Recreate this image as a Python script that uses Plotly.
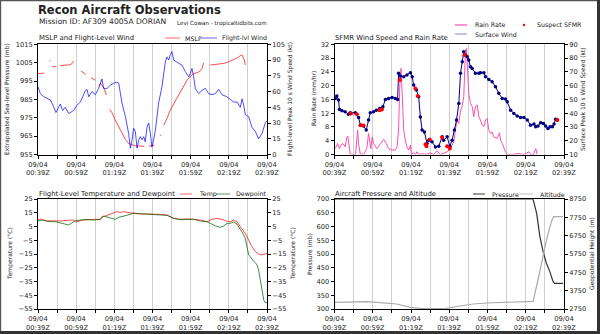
import plotly.graph_objects as go

# ---------------- data (minutes after 09/04 00:39Z) ----------------
tick_minutes = [0, 20, 40, 60, 80, 100, 120]
tick_labels = ["09/04<br>00:39Z", "09/04<br>00:59Z", "09/04<br>01:19Z", "09/04<br>01:39Z",
               "09/04<br>01:59Z", "09/04<br>02:19Z", "09/04<br>02:39Z"]

mslp_t = [0, 1.2, 3.3, 4.5, 5.9, 6.5, 6.9, 7.3, 8.6, 9.6, 10.5, 11.7, 13.4, 15.2, 16.9, 17.8, 18.7, 20.5,
          22.5, 23.6, 25.0, 26.5, 27.8, 29.2, 30.0, 31.0, 31.8, 32.7, 33.5, 34.8, 35.8, 36.7,
          37.6, 38.8, 40.5, 42.3, 44.0, 45.8, 47.5, 49.3, 51.0, 52.8, 54.5, 55.7, 57.0,
          58.0, 59.2, 61.0, 62.5, 63.8, 64.6, 65.2,
          65.9, 67.6, 69.3, 71.1, 72.8, 74.6, 76.3, 78.1, 79.8, 81.6, 83.4, 85.1, 86.0, 86.8, 88.5,
          90.3, 93.8, 97.3, 100.0, 102.5, 104.5, 106.0, 106.9, 108.1, 108.6]
mslp_v = [999.2, 999.0, 999.4, None, 1005.9, 1006.1, None, 1002.8, 1002.6, 1002.8, None,
          1003.4, 1003.5, 1003.9, 1003.9, 1004.5, 1005.9, None,
          1000.5, 999.7, 998.6, None, 996.8, 996.1, 995.5, None, 992.3, 993.7, 992.8, 990.5, 987.4, None,
          979.5, 977.7, 973.7, 970.1, 966.5, 963.2, 961.0, 960.1, 959.7, 959.7, 959.5, 959.4, None,
          959.5, 959.9, 960.1, None, 965.5, 965.5, None,
          971.0, 974.6, 979.2, 982.5, 985.5, 988.6, 991.9, 995.5, 997.4, 999.2, 999.5, 1000.6, 1001.9, 1005.0, None,
          1003.7, 1004.0, 1004.6, 1005.5, 1006.5, 1007.6, 1008.8, 1009.2, 1006.5, 1003.7]

flw_t = [0, 1.2, 3.0, 5.6, 6.5, 8.2, 9.4, 10.8, 11.7, 12.9, 14.3, 16.1, 17.8, 18.7, 20.4, 22.2, 24.8, 25.7,
         26.6, 28.3, 30.0, 31.8, 33.5, 34.4, 36.2, 37.9, 39.7, 41.4, 42.3, 44.0, 45.8, 47.5, 48.4, 49.3,
         50.1, 51.0, 51.9, 52.8, 53.6, 54.5, 55.4, 56.2, 57.1, 58.0, 58.9, 59.7, 60.6, 61.5, 63.2, 65.0,
         66.7, 67.6, 68.5, 69.3, 70.2, 71.1, 72.8, 75.5, 77.2, 79.0, 79.8, 80.7, 81.6, 82.4, 84.2, 85.9,
         87.7, 89.4, 91.2, 92.9, 94.7, 96.4, 99.0, 100.8, 102.5, 104.3, 106.0, 106.9, 107.8, 108.6, 110.4,
         112.1, 113.9, 115.6, 117.4, 119.1, 120]
flw_v = [64.6, 58, 55, 53, 52, 45.5, 40, 45, 48, 42, 45, 39, 41, 42, 47, 50, 61, 62, 55, 60,
         57, 63, 72, 63, 63, 66, 68, 69, 68, 49, 36, 20, 6, 14, 25, 22, 6, 14, 17, 14,
         17, 12, 26, 30, 20, 7, 14, 23, 49, 65, 88, 93, 90, 95, 98, 90, 88, 85, 79, 74,
         77, 82, 74, 63, 58, 61, 63, 58, 57, 58, 62, 57, 55, 52, 50, 50, 45, 53, 47, 38,
         36, 26, 22, 15, 20, 30, 32]

rain_t = [0, 0.9, 1.6, 2.6, 3.3, 4.4, 5.6, 6.5, 7.0, 7.7, 8.2, 9.5, 11.0, 12.1, 12.6, 13.4, 15.2, 16.9,
          17.8, 18.3, 19.0, 19.7, 20.4, 22.2, 23.9, 25.7, 27.1, 28.3, 30.0, 31.8, 32.7, 33.5, 34.1, 34.8,
          35.3, 36.2, 37.0, 37.9, 38.8, 39.7, 40.2, 41.4, 42.3, 43.1, 44.0, 46, 48, 50, 52, 53.6, 55.4,
          57, 58.9, 60.6, 62.4, 63.2, 64.1, 65.0, 65.9, 66.7, 67.6, 68.1, 68.5, 69.0, 69.7, 70.2, 71.1,
          72.0, 72.8, 73.7, 74.6, 75.5, 76.3, 77.2, 78.1, 79.0, 79.8, 80.7, 81.6, 82.4, 83.3, 85.1, 86.3,
          86.8, 87.7, 88.6, 89.4, 90.3, 93, 96, 99, 101.7, 102.5, 104, 105.2, 106.0]
rain_v = [1.7, 2.2, 3.2, 1.7, 2.7, 3.2, 2.2, 5.1, 5.3, 2.7, 0.1, 0, 0, 7.1, 3.2, 0.3, 0, 1.7,
          6.1, 4.2, 1.7, 5.1, 3.2, 1.7, 3.2, 4.4, 3.2, 1.7, 1.3, 1.3, 2.2, 7.1, 19.7, 25.0,
          18.7, 7.1, 4.2, 2.2, 1.3, 2.7, 0.1, 0.5, 0, 0.8, 0, 0.3, 0, 0.5, 0, 1.1, 0,
          0.3, 0.8, 1.7, 3.7, 7.1, 10.0, 9.0, 12.9, 13.9, 16.8, 24.5, 30.4, 30.8, 24.5, 17.7, 14.8,
          13.9, 11.0, 13.9, 14.4, 11.0, 10.0, 8.5, 8.1, 10.0, 10.5, 7.1, 6.1, 6.6, 5.1, 4.7, 6.3,
          4.2, 3.2, 1.7, 0.8, 0, 0, 0.3, 0, 0.8, 0, 0, 1.7, 0]

sfmr_t = [0.4, 1.2, 2.1, 2.6, 3.9, 5.6, 7.3, 8.2, 10.9, 12.6, 13.5, 15.2, 16.6, 17.8, 18.7, 20.4, 21.9,
          23.6, 25.3, 26.6, 28.3, 30.1, 31.8, 33.0, 33.5, 34.4, 36.2, 37.9, 39.7, 40.6, 41.4, 42.8, 44.0,
          44.9, 45.8, 47.0, 48.4, 49.3, 51.0, 52.8, 54.5, 56.3, 57.1, 58.9, 60.3, 61.5, 62.7, 63.8, 65.0,
          65.9, 66.8, 67.6, 68.5, 69.4, 70.2, 71.1, 72.0, 73.7, 75.5, 76.3, 78.1, 79.0, 80.7, 82.4, 84.2,
          85.9, 87.7, 89.4, 90.3, 92.1, 93.8, 95.5, 97.3, 99.0, 100.8, 102.5, 104.3, 105.2, 106.4, 107.8,
          109.2, 110.4, 111.6, 112.7, 113.9, 114.8, 115.6, 116.5]
sfmr_v = [50.7, 52.4, 49.5, 42.7, 41.7, 41.0, 39.3, 40.3, 40.3, 36.9, 31.3, 30.6, 27.7, 35.0, 40.3, 41.0,
          42.2, 43.4, 44.6, 50.0, 50.7, 51.4, 50.7, 50.0, 68.9, 66.9, 66.4, 67.7, 69.4, 66.4, 60.4, 56.8,
          51.9, 37.3, 27.7, 26.4, 18.0, 20.4, 19.2, 15.5, 16.0, 22.8, 20.4, 22.8, 16.0, 20.4, 27.7, 35.0,
          47.0, 68.9, 77.3, 84.6, 82.2, 81.0, 78.6, 73.7, 72.5, 68.9, 68.9, 69.4, 69.4, 66.5, 64.5, 62.8,
          59.2, 54.4, 50.7, 50.2, 48.3, 42.2, 39.8, 37.9, 36.9, 36.9, 35.0, 31.3, 32.1, 30.1, 30.6, 33.0,
          32.5, 30.6, 28.9, 30.1, 30.1, 32.1, 35.5, 35.0]

susp_t = [8.6, 11.7, 13.8, 15.2, 23.6, 24.8, 34.1, 42.3, 43.5, 47.6, 48.1, 49.8, 56.3, 58.9, 60.3, 68.0, 116.5]
susp_v = [39.8, 39.3, 31.3, 31.0, 42.2, 42.7, 64.0, 58.0, 52.4, 17.5, 16.0, 20.9, 22.4, 16.0, 14.4, 82.2, 35.0]

temp_t = [0, 1.2, 3.0, 4.7, 8.2, 11.7, 15.2, 18.7, 19.6, 21.3, 23.1, 25.7, 29.2, 32.7, 33.5, 35.3, 37.9,
          39.7, 41.4, 43.1, 44.9, 46.6, 50.1, 53.6, 57.1, 60.6, 64.1, 67.6, 71.1, 74.6, 78.1, 81.6, 85.1,
          88.6, 91.2, 93.8, 96.4, 99.0, 100.8, 102.5, 104.3, 106.0, 108.6, 110.4, 112.1, 113.9, 115.6,
          117.4, 119.1, 120]
temp_v = [9.7, 10.5, 9.7, 9.0, 9.2, 9.0, 9.5, 9.7, 8.5, 8.8, 9.7, 10.0, 10.2, 10.2, 12.2, 12.6, 13.8,
          15.1, 15.8, 15.1, 15.8, 15.3, 14.6, 14.1, 14.1, 14.1, 13.8, 13.4, 10.9, 10.2, 10.5, 10.2, 9.7,
          8.5, 10.2, 10.9, 10.2, 8.8, 8.5, 9.7, 8.5, 4.9, 0.0, -4.8, -9.7, -13.3, -15.0, -15.7, -15.0, -14.5]

dew_t = [0, 2.1, 3.8, 6.5, 9.1, 11.7, 14.3, 16.1, 17.8, 19.6, 22.2, 25.7, 29.2, 32.7, 34.4, 36.2, 37.9,
         40.5, 42.3, 44.0, 45.8, 47.5, 50.1, 53.6, 57.1, 60.6, 64.1, 67.6, 71.1, 74.6, 78.1, 81.6, 85.1,
         88.6, 90.3, 93.0, 95.5, 97.3, 99.0, 100.8, 102.5, 104.3, 106.0, 106.9, 108.6, 110.4, 111.3,
         112.1, 113.9, 114.8, 115.6, 116.5, 117.4, 118.3, 119.1, 120]
dew_v = [9.0, 9.7, 9.2, 8.5, 8.5, 7.8, 6.6, 6.1, 7.8, 9.2, 9.7, 10.0, 9.7, 10.2, 12.6, 11.7, 11.2,
         10.2, 11.7, 12.2, 12.9, 13.8, 14.6, 14.3, 14.1, 13.8, 13.6, 13.1, 10.9, 10.0, 10.2, 10.2, 9.0,
         8.5, 7.3, 5.4, 4.4, 5.4, 7.3, 7.3, 8.3, 6.8, 2.9, 1.2, -3.6, -15.7, -16.9, -18.9, -21.3, -23.0,
         -26.6, -33.9, -42.4, -48.5, -50.4, -50.4]

pres_t = [0, 103.8, 105.7, 107.4, 109.1, 110.8, 112.6, 114.3, 115.1, 119.5]
pres_v = [700, 700, 648, 563, 508, 466, 436, 399, 393, 393]

alt_t = [0, 16.9, 23.8, 32.5, 39.5, 44.7, 51.7, 58.6, 65.6, 72.5, 79.5, 86.4, 95.1, 103.8,
         106.4, 108.1, 109.9, 111.7, 113.4, 114.6, 119.5]
alt_v = [3114, 3150, 3095, 3023, 2841, 2786, 2768, 2786, 2914, 3023, 3077, 3114, 3150, 3168,
         4332, 5241, 6059, 6877, 7513, 7786, 7786]

# ---------------- layout helpers ----------------
W, H = 600, 334
FONT = "DejaVu Sans"
TXT = "#222222"


def px(x):
    return x / W


def py(y):
    return 1 - y / H


xL = [px(38), px(267)]
xR = [px(334.5), px(564)]
yT = [py(154.5), py(44.3)]
yB = [py(309), py(199)]

fig = go.Figure()
fig.add_trace(go.Scatter(x=mslp_t, y=mslp_v, mode="lines", line=dict(color="rgba(255,0,0,0.7)", width=1),
                         xaxis="x", yaxis="y", name="MSLP", connectgaps=False))
fig.add_trace(go.Scatter(x=flw_t, y=flw_v, mode="lines", line=dict(color="rgba(0,0,255,0.7)", width=1),
                         xaxis="x", yaxis="y2", name="Flight-lvl Wind"))
fig.add_trace(go.Scatter(x=rain_t, y=rain_v, mode="lines", line=dict(color="#ff4fa8", width=1),
                         xaxis="x2", yaxis="y3", name="Rain Rate"))
fig.add_trace(go.Scatter(x=sfmr_t, y=sfmr_v, mode="lines+markers", line=dict(color="#000080", width=1),
                         marker=dict(color="#000080", size=3.5), xaxis="x2", yaxis="y4", name="Surface Wind"))
fig.add_trace(go.Scatter(x=susp_t, y=susp_v, mode="markers", marker=dict(color="#ff0000", size=4),
                         xaxis="x2", yaxis="y4", name="Suspect SFMR"))
fig.add_trace(go.Scatter(x=temp_t, y=temp_v, mode="lines", line=dict(color="rgba(255,0,0,0.7)", width=1),
                         xaxis="x3", yaxis="y5", name="Temp"))
fig.add_trace(go.Scatter(x=dew_t, y=dew_v, mode="lines", line=dict(color="rgba(0,100,0,0.75)", width=1),
                         xaxis="x3", yaxis="y6", name="Dewpoint"))
fig.add_trace(go.Scatter(x=pres_t, y=pres_v, mode="lines", line=dict(color="#333333", width=1.2),
                         xaxis="x4", yaxis="y7", name="Pressure"))
fig.add_trace(go.Scatter(x=alt_t, y=alt_v, mode="lines", line=dict(color="#aaaaaa", width=1.2),
                         xaxis="x4", yaxis="y8", name="Altitude"))

tickfont = dict(family=FONT, size=6.7, color=TXT)
grid = "#cfcfcf"


def xax(domain, anchor):
    return dict(domain=domain, anchor=anchor, range=[0, 120], tickvals=tick_minutes, ticktext=tick_labels,
                ticks="outside", ticklen=3, tickwidth=1, tickcolor="black", showline=True, mirror=True,
                linecolor="black", linewidth=1, showgrid=True, gridcolor=grid, gridwidth=1, zeroline=False,
                tickfont=tickfont, minor=dict(dtick=10, tick0=0, ticks="outside", ticklen=3, tickcolor="black",
                                              showgrid=True, gridcolor=grid, gridwidth=1))


def yax(domain, anchor, rng, dtick, tick0):
    return dict(domain=domain, anchor=anchor, range=rng, dtick=dtick, tick0=tick0, ticks="outside", ticklen=3,
                tickcolor="black", showline=True, mirror=True, linecolor="black", linewidth=1, showgrid=False,
                zeroline=False, tickfont=tickfont)


def yov(over, anchor, rng, dtick, tick0):
    return dict(overlaying=over, side="right", anchor=anchor, range=rng, dtick=dtick, tick0=tick0,
                ticks="outside", ticklen=3, tickcolor="black", showline=True, linecolor="black", linewidth=1,
                showgrid=False, zeroline=False, tickfont=tickfont)


fig.update_layout(
    width=W, height=H, margin=dict(l=0, r=0, t=0, b=0), autosize=False, showlegend=False,
    paper_bgcolor="white", plot_bgcolor="white", template="none",
    font=dict(family=FONT, color=TXT),
    xaxis=xax(xL, "y"), xaxis2=xax(xR, "y3"), xaxis3=xax(xL, "y5"), xaxis4=xax(xR, "y7"),
    yaxis=yax(yT, "x", [955, 1015], 10, 955), yaxis2=yov("y", "x", [0, 105], 15, 0),
    yaxis3=yax(yT, "x2", [0, 32], 4, 0), yaxis4=yov("y3", "x2", [10, 90], 10, 10),
    yaxis5=yax(yB, "x3", [-55, 25], 10, -55), yaxis6=yov("y5", "x3", [-55, 25], 10, -55),
    yaxis7=yax(yB, "x4", [300, 700], 50, 300), yaxis8=yov("y7", "x4", [2750, 8750], 1000, 2750),
)

ann = []


def text(t, x, y, size, xanchor="left", angle=0, color=TXT):
    ann.append(dict(text=t, x=px(x), y=py(y), xref="paper", yref="paper", xanchor=xanchor, yanchor="middle",
                    showarrow=False, textangle=angle, font=dict(family=FONT, size=size, color=color)))


text("<b>Recon Aircraft Observations</b>", 36, 10, 11.5)
text("Mission ID: AF309 4005A DORIAN", 37, 22, 7.6)
text("Levi Cowan - tropicaltidbits.com", 175, 23, 5.6)

text("MSLP and Flight-Level Wind", 37, 38, 6.9)
text("SFMR Wind Speed and Rain Rate", 333, 38, 6.9)
text("Flight-Level Temperature and Dewpoint", 37, 194, 6.9)
text("Aircraft Pressure and Altitude", 333, 194, 6.9)

# y-axis titles
text("Extrapolated Sea-level Pressure (mb)", 7, 99, 6, "center", -90)
text("Flight-level Peak 10 s Wind Speed (kt)", 290, 99, 6, "center", -90)
text("Rain Rate (mm/hr)", 314, 99, 6, "center", -90)
text("Surface Peak 10 s Wind Speed (kt)", 583, 99, 6, "center", -90)
text("Temperature (°C)", 10, 254, 6, "center", -90)
text("Temperature (°C)", 293, 254, 6, "center", -90)
text("Pressure (mb)", 309, 254, 6, "center", -90)
text("Geopotential Height (m)", 592, 254, 6, "center", -90)

# legends
shapes = []


def lline(x0, x1, y, color, width=1.2):
    shapes.append(dict(type="line", xref="paper", yref="paper", x0=px(x0), x1=px(x1), y0=py(y), y1=py(y),
                       line=dict(color=color, width=width)))


LS = 6.3
lline(165, 180, 38, "rgba(255,0,0,0.5)")
text("MSLP", 183, 38, LS)
lline(202, 217, 38, "rgba(0,0,255,0.5)")
text("Flight-lvl Wind", 220, 38, LS)

lline(455, 467, 25, "#ff4fa8")
text("Rain Rate", 473, 25, LS)
shapes.append(dict(type="circle", xref="paper", yref="paper", x0=px(522.8), x1=px(525.2), y0=py(26.2),
                   y1=py(23.8), fillcolor="#ff0000", line=dict(width=0)))
text("Suspect SFMR", 535, 25, LS)
lline(455, 467, 34, "rgba(0,0,128,0.4)")
text("Surface Wind", 473, 34, LS)

lline(180, 192, 194, "rgba(255,0,0,0.5)")
text("Temp", 197, 194, LS)
lline(216, 230, 194, "rgba(0,100,0,0.55)")
text("Dewpoint", 234, 194, LS)

lline(473, 485, 194, "#555555")
text("Pressure", 490, 194, LS)
lline(520, 533, 194, "#cccccc")
text("Altitude", 538, 194, LS)

# frame around image
shapes.append(dict(type="rect", xref="paper", yref="paper", x0=0, x1=px(1.2), y0=0, y1=1,
                   fillcolor="#555555", line=dict(width=0)))
shapes.append(dict(type="rect", xref="paper", yref="paper", x0=0, x1=1, y0=py(1.2), y1=1,
                   fillcolor="#555555", line=dict(width=0)))
shapes.append(dict(type="rect", xref="paper", yref="paper", x0=px(597), x1=1, y0=0, y1=1,
                   fillcolor="#333333", line=dict(width=0)))
shapes.append(dict(type="rect", xref="paper", yref="paper", x0=0, x1=1, y0=0, y1=py(331),
                   fillcolor="#333333", line=dict(width=0)))

fig.update_layout(annotations=ann, shapes=shapes)
fig.write_html("out.html")
